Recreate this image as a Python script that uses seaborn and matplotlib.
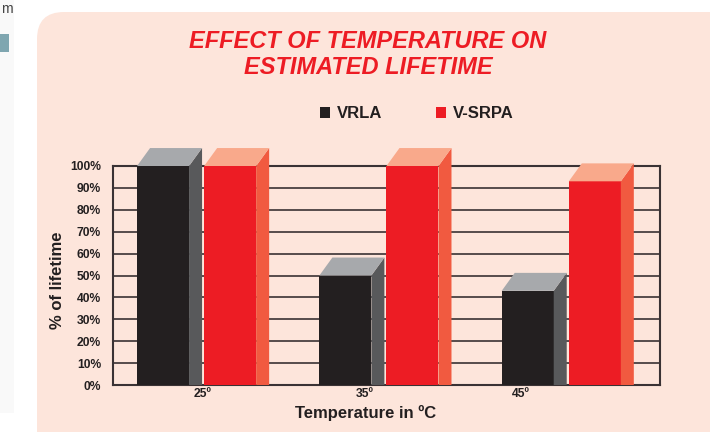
import numpy as np
import pandas as pd
import matplotlib
matplotlib.use('Agg')
import matplotlib.pyplot as plt
import seaborn as sns
from matplotlib.patches import Polygon, FancyBboxPatch, Rectangle

# data
temps = ['25º', '35º', '45º']
vrla = [100, 50, 43]
vsrpa = [100, 100, 93]
series = ['VRLA', 'V-SRPA']
ytick_labels = ['0%', '10%', '20%', '30%', '40%', '50%', '60%', '70%', '80%', '90%', '100%']

df = pd.DataFrame({
    'temp': temps * 2,
    'life': vrla + vsrpa,
    'type': [series[0]] * 3 + [series[1]] * 3,
})

# colours: front / side / top of each 3d bar
front = {'VRLA': '#231f20', 'V-SRPA': '#ed1c24'}
side = {'VRLA': '#58595b', 'V-SRPA': '#f15a40'}
top = {'VRLA': '#a7a9ac', 'V-SRPA': '#f9a98b'}
ink = '#231f20'
line_col = '#3a3234'

sns.set_style('white')
plt.rcParams['font.family'] = ['Liberation Sans', 'DejaVu Sans']

fig = plt.figure(figsize=(7.1, 4.32), dpi=100)
fig.patch.set_facecolor('white')

# pink rounded panel behind everything
panel = FancyBboxPatch((0.37, -0.6), 7.3, 4.80,
                       boxstyle='round,pad=0,rounding_size=0.27',
                       transform=fig.dpi_scale_trans, facecolor='#fde5db',
                       edgecolor='none', zorder=-5)
fig.patches.append(panel)
# bits of the neighbouring page on the left
fig.patches.append(Rectangle((0, 0.19), 0.14, 4.13, transform=fig.dpi_scale_trans,
                             facecolor='#f9f9f9', edgecolor='none', zorder=-5))
fig.patches.append(Rectangle((0, 3.80), 0.09, 0.18, transform=fig.dpi_scale_trans,
                             facecolor='#7fa6b0', edgecolor='none', zorder=-5))
fig.text(0.002, 0.995, 'm', fontsize=10, color='#444444', va='top', ha='left')

ax = fig.add_axes([113 / 710, 1 - 385 / 432, 547 / 710, 219 / 432])
ax.set_facecolor('none')

sns.barplot(data=df, x='temp', y='life', hue='type', hue_order=series,
            order=temps, palette=front, width=0.736, gap=0.225,
            saturation=1, errorbar=None, linewidth=0, legend=False, ax=ax,
            zorder=3)

# fake 3d: side and top faces built from the seaborn bars
dx = 0.0713
dy = 8.2
for cont, name in zip(ax.containers, series):
    for bar in cont:
        x0 = bar.get_x()
        x1 = x0 + bar.get_width()
        h = bar.get_height()
        ax.add_patch(Polygon([(x1, 0), (x1 + dx, 0), (x1 + dx, h + dy), (x1, h)],
                             closed=True, facecolor=side[name], edgecolor='none',
                             zorder=3, clip_on=False))
        ax.add_patch(Polygon([(x0, h), (x0 + dx, h + dy), (x1 + dx, h + dy), (x1, h)],
                             closed=True, facecolor=top[name], edgecolor='none',
                             zorder=3, clip_on=False))

ax.set_xlim(-0.4585, 2.5415)
ax.set_ylim(0, 100)
ax.set_yticks(np.arange(0, 101, 10))
ax.set_yticklabels(ytick_labels)
ax.set_xticks([0.035, 0.924, 1.78])
ax.set_xticklabels(temps)
ax.tick_params(axis='both', length=0, labelsize=8.7, labelcolor=ink)
ax.tick_params(axis='y', pad=8.6)
ax.tick_params(axis='x', pad=2)
for lab in ax.get_xticklabels() + ax.get_yticklabels():
    lab.set_fontweight('bold')

ax.grid(axis='y', color=line_col, linewidth=1.2, zorder=1)
ax.grid(axis='x', visible=False)
ax.set_axisbelow(True)
for sp in ax.spines.values():
    sp.set_visible(True)
    sp.set_color(line_col)
    sp.set_linewidth(1.5)
    sp.set_zorder(2)

ax.set_ylabel('% of lifetime', fontsize=12, fontweight='bold', color=ink)
ax.yaxis.set_label_coords(-0.088, 0.479)
ax.set_xlabel('Temperature in ºC', fontsize=12, fontweight='bold', color=ink)
ax.xaxis.set_label_coords(0.461, -0.128)
ax.xaxis.label.set_va('center')

# title
fig.text(368 / 710, 1 - 42 / 432, 'EFFECT OF TEMPERATURE ON', ha='center', va='center',
         fontsize=17, fontweight='bold', fontstyle='italic', color='#ed1c24')
fig.text(368 / 710, 1 - 68 / 432, 'ESTIMATED LIFETIME', ha='center', va='center',
         fontsize=17, fontweight='bold', fontstyle='italic', color='#ed1c24')

# legend
handles = [Rectangle((0, 0), 1, 1, facecolor=front[s], edgecolor='none') for s in series]
leg = fig.legend(handles, series, loc='center left',
                 bbox_to_anchor=(312 / 710, 1 - 114 / 432), ncol=2, frameon=False,
                 borderpad=0, handlelength=0.6, handleheight=0.6,
                 handletextpad=0.42, columnspacing=3.2,
                 prop={'size': 12, 'weight': 'bold'})
for t in leg.get_texts():
    t.set_color(ink)

fig.savefig('out.png', dpi=100, facecolor=fig.get_facecolor())
